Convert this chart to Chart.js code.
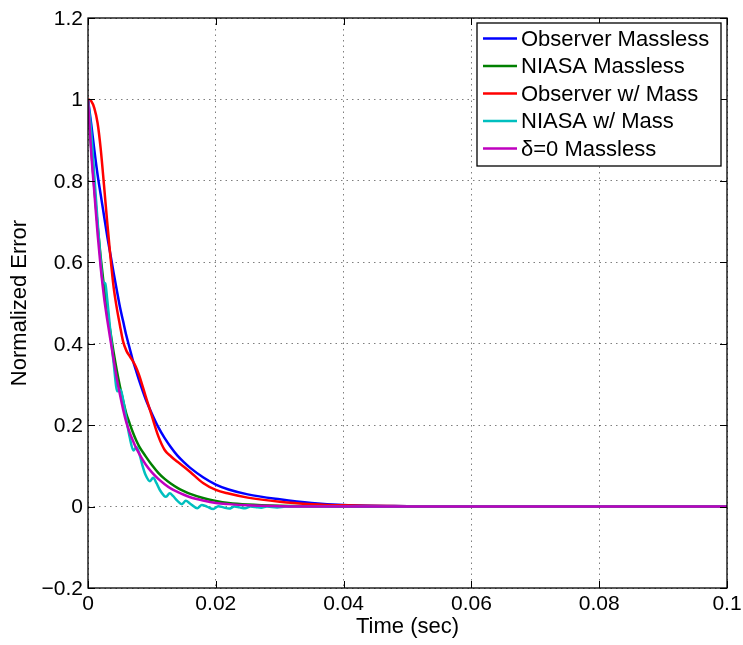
<!DOCTYPE html>
<html>
<head>
<meta charset="utf-8">
<script src="https://cdn.jsdelivr.net/npm/chart.js@4/dist/chart.umd.min.js"></script>
<style>
    html, body { margin: 0; padding: 0; background: #fff; }
    canvas { display: block; }
</style>
</head>
<body>
<canvas id="errChart" width="743" height="645"></canvas>
<script>
// time axis shared by the smooth curves (sec)
const timeSec = [0, 0.0005, 0.001, 0.0015, 0.002, 0.0025, 0.003, 0.0035, 0.004, 0.0045,
    0.005, 0.0055, 0.006, 0.0065, 0.007, 0.0075, 0.008, 0.009, 0.010, 0.011,
    0.012, 0.013, 0.014, 0.015, 0.016, 0.018, 0.020, 0.022, 0.025, 0.030,
    0.035, 0.040, 0.050, 0.060, 0.070, 0.080, 0.090, 0.100];

const observerMassless = [1.0, 0.94, 0.875, 0.815, 0.765, 0.715, 0.665, 0.62, 0.575, 0.532,
    0.49, 0.455, 0.42, 0.39, 0.36, 0.335, 0.31, 0.265, 0.228, 0.195,
    0.168, 0.145, 0.125, 0.109, 0.095, 0.072, 0.054, 0.042, 0.03, 0.018,
    0.009, 0.004, 0.001, 0, 0, 0, 0, 0];

const niasaMassless = [1.0, 0.88, 0.78, 0.69, 0.61, 0.54, 0.48, 0.43, 0.38, 0.335,
    0.295, 0.26, 0.228, 0.205, 0.183, 0.164, 0.148, 0.124, 0.102, 0.083,
    0.068, 0.056, 0.046, 0.038, 0.031, 0.021, 0.014, 0.009, 0.005, 0.002,
    0.001, 0, 0, 0, 0, 0, 0, 0];

const observerMass = [1.0, 0.996, 0.978, 0.942, 0.877, 0.79, 0.70, 0.615, 0.54, 0.488,
    0.445, 0.405, 0.383, 0.37, 0.358, 0.343, 0.323, 0.272, 0.222, 0.173,
    0.139, 0.123, 0.11, 0.098, 0.085, 0.058, 0.041, 0.032, 0.022, 0.012,
    0.006, 0.003, 0.001, 0, 0, 0, 0, 0];

const deltaZeroMassless = [1.0, 0.87, 0.77, 0.67, 0.585, 0.515, 0.46, 0.41, 0.362, 0.315,
    0.275, 0.238, 0.207, 0.183, 0.163, 0.145, 0.13, 0.104, 0.084, 0.068,
    0.055, 0.044, 0.036, 0.029, 0.023, 0.015, 0.009, 0.006, 0.003, 0.001,
    0, 0, 0, 0, 0, 0, 0, 0];

// NIASA with mass rings, so it gets its own denser time base
const niasaMassTime = [0, 0.0005, 0.001, 0.0015, 0.002, 0.0023, 0.0027, 0.003, 0.0035, 0.004,
    0.0046, 0.0051, 0.0055, 0.006, 0.0065, 0.0071, 0.0076, 0.008, 0.0085, 0.009,
    0.0097, 0.0102, 0.0107, 0.0112, 0.0122, 0.0128, 0.0133, 0.014, 0.0147, 0.0153,
    0.016, 0.0171, 0.0178, 0.0186, 0.0196, 0.0204, 0.0212, 0.0221, 0.0229, 0.0237,
    0.0246, 0.0254, 0.0262, 0.0271, 0.028, 0.0296, 0.031, 0.035, 0.04, 0.05,
    0.06, 0.07, 0.08, 0.09, 0.1];
const niasaMass = [1.0, 0.92, 0.81, 0.70, 0.60, 0.553, 0.548, 0.51, 0.43, 0.355,
    0.283, 0.287, 0.262, 0.215, 0.172, 0.138, 0.146, 0.132, 0.102, 0.078,
    0.062, 0.071, 0.058, 0.042, 0.024, 0.033, 0.026, 0.014, 0.006, 0.014,
    0.007, -0.004, 0.004, 0.0, -0.006, 0.001, -0.002, -0.005, 0.0, -0.002,
    -0.004, 0.0, -0.001, -0.003, 0.0, -0.002, 0, 0, 0, 0,
    0, 0, 0, 0, 0];

const seriesNames = ['Observer Massless', 'NIASA Massless', 'Observer w/ Mass', 'NIASA w/ Mass', 'δ=0 Massless'];
const seriesColors = ['#0000ff', '#008000', '#ff0000', '#00bfbf', '#bf00bf'];

const xTicks = [0, 0.02, 0.04, 0.06, 0.08, 0.1];
const xTickLabels = ['0', '0.02', '0.04', '0.06', '0.08', '0.1'];
const yTicks = [-0.2, 0, 0.2, 0.4, 0.6, 0.8, 1.0, 1.2];
const yTickLabels = ['\u22120.2', '0', '0.2', '0.4', '0.6', '0.8', '1', '1.2'];

const FONT = "'Liberation Sans', Arial, Helvetica, sans-serif";

function toPoints(xs, ys) {
    return xs.map((t, i) => ({ x: t, y: ys[i] }));
}

// box, inward ticks, tick labels, axis titles and legend, matlab style
const axesDecor = {
    id: 'axesDecor',
    afterDatasetsDraw(chart) {
        const { ctx, chartArea: a, scales } = chart;
        const x = scales.x, y = scales.y;
        const tickLen = 7;
        ctx.save();
        ctx.strokeStyle = '#000';
        ctx.lineWidth = 1.3;
        ctx.strokeRect(a.left, a.top, a.right - a.left, a.bottom - a.top);

        ctx.beginPath();
        xTicks.forEach(v => {
            const px = Math.round(x.getPixelForValue(v)) + 0.5;
            ctx.moveTo(px, a.bottom); ctx.lineTo(px, a.bottom - tickLen);
            ctx.moveTo(px, a.top); ctx.lineTo(px, a.top + tickLen);
        });
        yTicks.forEach(v => {
            const py = Math.round(y.getPixelForValue(v)) + 0.5;
            ctx.moveTo(a.left, py); ctx.lineTo(a.left + tickLen, py);
            ctx.moveTo(a.right, py); ctx.lineTo(a.right - tickLen, py);
        });
        ctx.lineWidth = 1;
        ctx.stroke();

        // tick labels
        ctx.fillStyle = '#000';
        ctx.font = '21px ' + FONT;
        ctx.textAlign = 'center';
        ctx.textBaseline = 'top';
        xTicks.forEach((v, i) => {
            ctx.fillText(xTickLabels[i], x.getPixelForValue(v), a.bottom + 6);
        });
        ctx.textAlign = 'right';
        ctx.textBaseline = 'middle';
        yTicks.forEach((v, i) => {
            ctx.fillText(yTickLabels[i], a.left - 5, y.getPixelForValue(v) + 1);
        });

        // axis titles
        ctx.font = '22px ' + FONT;
        ctx.textAlign = 'center';
        ctx.fillText('Time (sec)', (a.left + a.right) / 2, 627);
        ctx.save();
        ctx.translate(20, (a.top + a.bottom) / 2);
        ctx.rotate(-Math.PI / 2);
        ctx.fillText('Normalized Error', 0, 0);
        ctx.restore();

        // legend
        const lx = 477, ly = 23, lw = 244, lh = 143;
        ctx.fillStyle = '#fff';
        ctx.fillRect(lx, ly, lw, lh);
        ctx.lineWidth = 1.3;
        ctx.strokeStyle = '#000';
        ctx.strokeRect(lx, ly, lw, lh);
        ctx.textAlign = 'left';
        seriesNames.forEach((name, i) => {
            const cy = 38.5 + i * 27.5;
            ctx.strokeStyle = seriesColors[i];
            ctx.lineWidth = 2.5;
            ctx.beginPath();
            ctx.moveTo(483, cy);
            ctx.lineTo(517, cy);
            ctx.stroke();
            ctx.fillStyle = '#000';
            ctx.fillText(name, 521, cy + 1);
        });
        ctx.restore();
    }
};

const seriesData = [
    toPoints(timeSec, observerMassless),
    toPoints(timeSec, niasaMassless),
    toPoints(timeSec, observerMass),
    toPoints(niasaMassTime, niasaMass),
    toPoints(timeSec, deltaZeroMassless)
];

const ctx = document.getElementById('errChart');
const errChart = new Chart(ctx, {
    type: 'line',
    data: {
        datasets: seriesData.map((pts, i) => ({
            label: seriesNames[i],
            data: pts,
            borderColor: seriesColors[i],
            backgroundColor: seriesColors[i],
            borderWidth: 2.5,
            pointRadius: 0,
            cubicInterpolationMode: 'monotone',
            fill: false,
            order: seriesNames.length - i   // later series drawn on top
        }))
    },
    options: {
        responsive: false,
        animation: false,
        devicePixelRatio: 1,
        parsing: false,
        layout: { padding: { top: 18, right: 16, left: 0, bottom: 0 } },
        plugins: {
            legend: { display: false },
            tooltip: { enabled: false }
        },
        scales: {
            x: {
                type: 'linear',
                min: 0,
                max: 0.1,
                afterFit(scale) { scale.height = 57; },
                afterBuildTicks(scale) { scale.ticks = xTicks.map(v => ({ value: v })); },
                ticks: { display: false },
                grid: { color: 'rgba(0,0,0,0.5)', lineWidth: 1, drawTicks: false },
                border: { display: false, dash: [1.5, 4] }
            },
            y: {
                type: 'linear',
                min: -0.2,
                max: 1.2,
                afterFit(scale) { scale.width = 88; },
                afterBuildTicks(scale) { scale.ticks = yTicks.map(v => ({ value: v })); },
                ticks: { display: false },
                grid: { color: 'rgba(0,0,0,0.5)', lineWidth: 1, drawTicks: false },
                border: { display: false, dash: [1.5, 4] }
            }
        }
    },
    plugins: [axesDecor]
});
</script>
</body>
</html>
